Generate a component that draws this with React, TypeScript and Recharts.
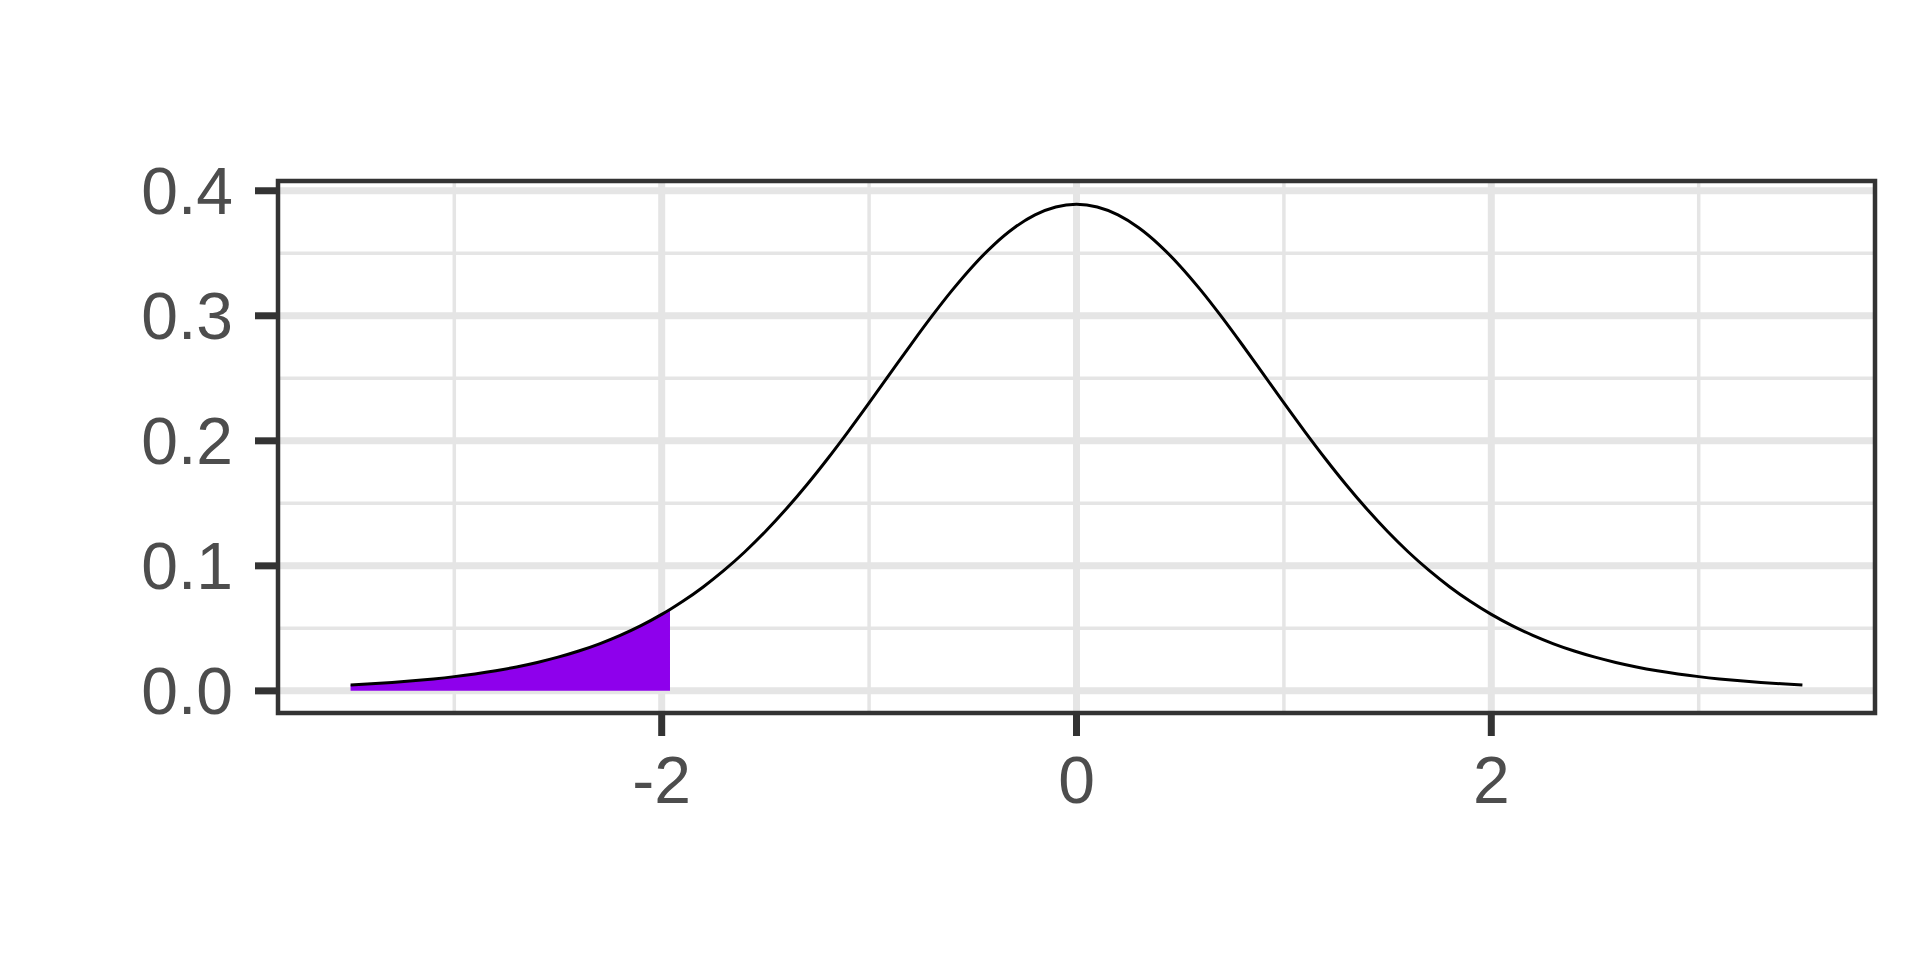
import React from 'react';
import {
  ComposedChart,
  Line,
  Area,
  XAxis,
  YAxis,
  CartesianGrid,
  ReferenceArea,
} from 'recharts';

// x positions of the density curve (t distribution)
const xValues: number[] = [
  -3.5, -3.4, -3.3, -3.2, -3.1, -3.0, -2.9, -2.8, -2.7, -2.6, -2.5, -2.4, -2.3, -2.2, -2.1, -2.0, -1.96,
  -1.9, -1.8, -1.7, -1.6, -1.5, -1.4, -1.3, -1.2, -1.1, -1.0, -0.9, -0.8, -0.7, -0.6, -0.5, -0.4, -0.3,
  -0.2, -0.1, 0.0, 0.1, 0.2, 0.3, 0.4, 0.5, 0.6, 0.7, 0.8, 0.9, 1.0, 1.1, 1.2, 1.3, 1.4, 1.5, 1.6, 1.7,
  1.8, 1.9, 2.0, 2.1, 2.2, 2.3, 2.4, 2.5, 2.6, 2.7, 2.8, 2.9, 3.0, 3.1, 3.2, 3.3, 3.4, 3.5,
];

const densityValues: number[] = [
  0.00478, 0.00569, 0.00677, 0.00805, 0.00958, 0.0114, 0.01356, 0.01612, 0.01915, 0.02273, 0.02695,
  0.03188, 0.03765, 0.04438, 0.05216, 0.06116, 0.06509, 0.07142, 0.08312, 0.09632, 0.11108, 0.12744,
  0.1454, 0.16486, 0.18567, 0.20761, 0.23036, 0.25353, 0.27663, 0.2991, 0.32033, 0.3397, 0.35658, 0.3704,
  0.38066, 0.38698, 0.38911, 0.38698, 0.38066, 0.3704, 0.35658, 0.3397, 0.32033, 0.2991, 0.27663,
  0.25353, 0.23036, 0.20761, 0.18567, 0.16486, 0.1454, 0.12744, 0.11108, 0.09632, 0.08312, 0.07142,
  0.06116, 0.05216, 0.04438, 0.03765, 0.03188, 0.02695, 0.02273, 0.01915, 0.01612, 0.01356, 0.0114,
  0.00958, 0.00805, 0.00677, 0.00569, 0.00478,
];

// shaded lower tail (x from -3.5 up to -1.96)
const tailValues: number[] = [
  0.00478, 0.00569, 0.00677, 0.00805, 0.00958, 0.0114, 0.01356, 0.01612, 0.01915, 0.02273, 0.02695,
  0.03188, 0.03765, 0.04438, 0.05216, 0.06116, 0.06509,
];

const xTicks: number[] = [-2, 0, 2];
const xMinorGrid: number[] = [-3, -1, 1, 3];
const yTicks: number[] = [0, 0.1, 0.2, 0.3, 0.4];
const yMinorGrid: number[] = [0.05, 0.15, 0.25, 0.35];

const xDomain: [number, number] = [-3.85, 3.85];
const yDomain: [number, number] = [-0.0177, 0.4078];

const data = xValues.map((x, i) => ({
  x,
  density: densityValues[i],
  tail: i < tailValues.length ? tailValues[i] : null,
}));

const FONT = '"Liberation Sans", Arial, Helvetica, sans-serif';
const tickStyle = { fill: '#4D4D4D', fontSize: 66, fontFamily: FONT };
const GRID = '#E5E5E5';
const DARK = '#333333';

export default function App() {
  return (
    <div style={{ position: 'absolute', left: 0, top: 0, width: 1920, height: 960, background: '#ffffff' }}>
      <ComposedChart
        width={1920}
        height={960}
        data={data}
        margin={{ top: 181, right: 45, bottom: 127, left: 78 }}
      >
        <CartesianGrid
          horizontalValues={yMinorGrid}
          verticalValues={xMinorGrid}
          stroke={GRID}
          strokeWidth={3.5}
          fill="none"
        />
        <CartesianGrid
          horizontalValues={yTicks}
          verticalValues={xTicks}
          stroke={GRID}
          strokeWidth={7}
          fill="none"
        />
        <XAxis
          dataKey="x"
          type="number"
          domain={xDomain}
          ticks={xTicks}
          allowDataOverflow
          axisLine={false}
          tickLine={{ stroke: DARK, strokeWidth: 7 }}
          tickSize={23}
          tickMargin={20}
          height={120}
          tick={tickStyle}
          tickFormatter={(v: number) => String(Math.round(v))}
        />
        <YAxis
          type="number"
          domain={yDomain}
          ticks={yTicks}
          allowDataOverflow
          axisLine={false}
          tickLine={{ stroke: DARK, strokeWidth: 7 }}
          tickSize={23}
          tickMargin={22}
          width={200}
          tick={tickStyle}
          tickFormatter={(v: number) => v.toFixed(1)}
        />
        <Area
          dataKey="tail"
          type="monotone"
          baseValue={0}
          stroke="none"
          fill="#8E00EC"
          fillOpacity={1}
          isAnimationActive={false}
          connectNulls={false}
          dot={false}
          activeDot={false}
        />
        <Line
          dataKey="density"
          type="monotone"
          stroke="#000000"
          strokeWidth={3}
          dot={false}
          activeDot={false}
          isAnimationActive={false}
        />
        <ReferenceArea
          x1={xDomain[0]}
          x2={xDomain[1]}
          y1={yDomain[0]}
          y2={yDomain[1]}
          fill="none"
          fillOpacity={0}
          stroke={DARK}
          strokeWidth={4.5}
          ifOverflow="visible"
        />
      </ComposedChart>
    </div>
  );
}
